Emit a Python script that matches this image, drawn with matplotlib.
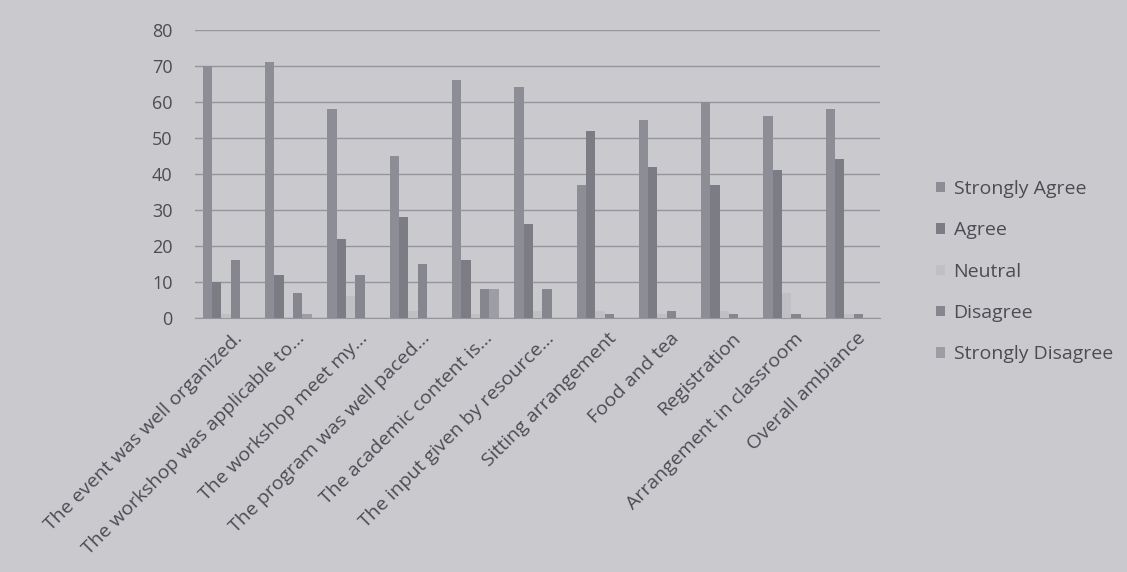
import matplotlib
matplotlib.use("Agg")
import matplotlib.pyplot as plt
import numpy as np

# survey items (x categories)
categories = ["The event was well organized.", "The workshop was applicable to...",
              "The workshop meet my...", "The program was well paced...",
              "The academic content is...", "The input given by resource...",
              "Sitting arrangement", "Food and tea", "Registration",
              "Arrangement in classroom", "Overall ambiance"]
strongly_agree = [70, 71, 58, 45, 66, 64, 37, 55, 60, 56, 58]
agree = [10, 12, 22, 28, 16, 26, 52, 42, 37, 41, 44]
neutral = [1, 0, 6, 2, 1, 2, 2, 1, 2, 7, 1]
disagree = [16, 7, 12, 15, 8, 8, 1, 2, 1, 1, 1]
strongly_disagree = [0, 1, 0, 0, 8, 0, 0, 0, 0, 0, 0]
series_names = ["Strongly Agree", "Agree", "Neutral", "Disagree", "Strongly Disagree"]
y_ticks = [0, 10, 20, 30, 40, 50, 60, 70, 80]

BG = "#c9c9ce"
TXT = "#4c4c52"
COLORS = ["#8d8d95", "#7c7c84", "#bfbfc4", "#86868e", "#9d9da4"]

plt.rcParams["font.family"] = ["Open Sans", "DejaVu Sans"]

fig = plt.figure(figsize=(11.27, 5.72), dpi=100, facecolor=BG)
ax = fig.add_axes([0.173, 0.444, 0.608, 0.504], facecolor=BG)

values = [strongly_agree, agree, neutral, disagree, strongly_disagree]
x = np.arange(len(categories))
w = 0.15
for k, (name, vals) in enumerate(zip(series_names, values)):
    ax.bar(x + (k - 2) * w, vals, w, color=COLORS[k], label=name, zorder=3)

ax.set_xlim(-0.5, len(categories) - 0.5)
ax.set_ylim(0, 80)
ax.set_yticks(y_ticks)
ax.yaxis.grid(True, color="#95959c", lw=1.0, zorder=0)
for s in ["top", "right", "left"]:
    ax.spines[s].set_visible(False)
ax.spines["bottom"].set_color("#95959c")
ax.tick_params(axis="both", length=0, colors=TXT)
ax.tick_params(axis="y", pad=16, labelsize=13)
ax.tick_params(axis="x", pad=8)
ax.set_xticks(x + 0.12)
ax.set_xticklabels(categories, rotation=45, ha="right", rotation_mode="anchor", fontsize=14)

fig.legend(loc="center left", bbox_to_anchor=(0.815, 0.525), frameon=False,
           fontsize=14, labelcolor=TXT, handlelength=0.45, handleheight=0.45,
           handletextpad=0.45, labelspacing=1.2)

fig.savefig("out.png", dpi=100, facecolor=BG)
